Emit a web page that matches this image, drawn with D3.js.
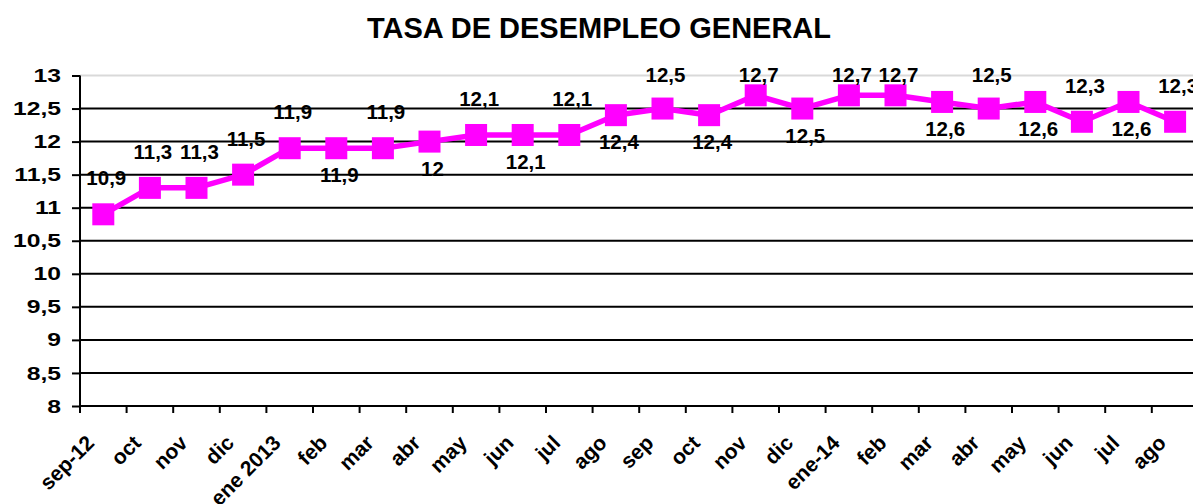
<!DOCTYPE html>
<html>
<head>
<meta charset="utf-8">
<script src="https://cdn.jsdelivr.net/npm/d3@7"></script>
<style>
  html, body { margin: 0; padding: 0; background: #fff; }
  svg { display: block; font-family: "Liberation Sans", Arial, sans-serif; }
</style>
</head>
<body>
<svg id="chart" width="1193" height="504"></svg>
<script>
// ---- data ----
const title = "TASA DE DESEMPLEO GENERAL";
const categories = ["sep-12","oct","nov","dic","ene 2013","feb","mar","abr","may","jun","jul","ago",
                    "sep","oct","nov","dic","ene-14","feb","mar","abr","may","jun","jul","ago"];
const values = [10.9, 11.3, 11.3, 11.5, 11.9, 11.9, 11.9, 12, 12.1, 12.1, 12.1, 12.4,
                12.5, 12.4, 12.7, 12.5, 12.7, 12.7, 12.6, 12.5, 12.6, 12.3, 12.6, 12.3];
// data-label placement: "a" = above the point, "b" = below
const labelSide = ["a","a","a","a","a","b","a","b","a","b","a","b",
                   "a","b","a","b","a","a","b","a","b","a","b","a"];
const yTicks = [8, 8.5, 9, 9.5, 10, 10.5, 11, 11.5, 12, 12.5, 13];

// ---- layout ----
const svg = d3.select("#chart");
const plotLeft = 80, plotTop = 75.5, plotBottom = 406;
const band = 46.6;
const plotRight = plotLeft + band * categories.length;
const fmt = v => String(v).replace(".", ",");

const x = d3.scaleBand().domain(d3.range(categories.length)).range([plotLeft, plotRight]).paddingInner(0).paddingOuter(0);
const y = d3.scaleLinear().domain([8, 13]).range([plotBottom, plotTop]);
const cx = i => x(i) + x.bandwidth() / 2;

// title
svg.append("text")
  .attr("x", 599).attr("y", 38)
  .attr("text-anchor", "middle")
  .attr("font-size", 29).attr("font-weight", "bold")
  .text(title);

// gridlines
svg.append("g").selectAll("line").data(yTicks.filter(t => t > 8)).join("line")
  .attr("x1", plotLeft).attr("x2", plotRight)
  .attr("y1", d => y(d)).attr("y2", d => y(d))
  .attr("stroke", d => d === 13 ? "#d9d9d9" : "#000")
  .attr("stroke-width", 2);

// y axis
const yAxis = d3.axisLeft(y).tickValues(yTicks).tickSize(8).tickPadding(10).tickFormat(fmt);
const gy = svg.append("g").attr("transform", `translate(${plotLeft},0)`).call(yAxis);
gy.select(".domain").attr("stroke", "#000").attr("stroke-width", 2).attr("d", `M0,${plotTop}V${plotBottom}`);
gy.selectAll(".tick line").attr("stroke", "#000").attr("stroke-width", 2);
gy.selectAll(".tick text").attr("font-size", 19).attr("font-weight", "bold")
  .attr("fill", "#000").attr("font-family", "Liberation Sans, Arial, sans-serif")
  .attr("x", 0).attr("transform", "translate(-19,0) scale(1.3,1)");

// x axis (ticks at category boundaries)
const xBoundaries = d3.range(categories.length + 1).map(i => plotLeft + i * band);
svg.append("line").attr("x1", plotLeft).attr("x2", plotRight).attr("y1", plotBottom).attr("y2", plotBottom)
  .attr("stroke", "#000").attr("stroke-width", 2);
svg.append("g").selectAll("line").data(xBoundaries).join("line")
  .attr("x1", d => d).attr("x2", d => d).attr("y1", plotBottom).attr("y2", plotBottom + 7)
  .attr("stroke", "#000").attr("stroke-width", 2);

svg.append("g").selectAll("text").data(categories).join("text")
  .attr("transform", (d, i) => `translate(${cx(i) - 13},${plotBottom + 33}) rotate(-45)`)
  .attr("text-anchor", "end")
  .attr("dy", "0.35em")
  .attr("font-size", 21).attr("font-weight", "bold")
  .text(d => d);

// line
const line = d3.line().x((d, i) => cx(i)).y(d => y(d));
svg.append("path").datum(values)
  .attr("d", line)
  .attr("fill", "none").attr("stroke", "#ff00ff").attr("stroke-width", 5.5)
  .attr("stroke-linejoin", "round");

// markers
const ms = 22;
svg.append("g").selectAll("rect").data(values).join("rect")
  .attr("x", (d, i) => cx(i) - ms / 2).attr("y", d => y(d) - ms / 2)
  .attr("width", ms).attr("height", ms)
  .attr("fill", "#ff00ff");

// data labels
svg.append("g").selectAll("text").data(values).join("text")
  .attr("x", (d, i) => cx(i) + 3)
  .attr("y", (d, i) => labelSide[i] === "a" ? Math.max(y(d) - 29, 82) : y(d) + 34)
  .attr("text-anchor", "middle")
  .attr("font-size", 20.5).attr("font-weight", "bold")
  .text(d => fmt(d));
</script>
</body>
</html>
